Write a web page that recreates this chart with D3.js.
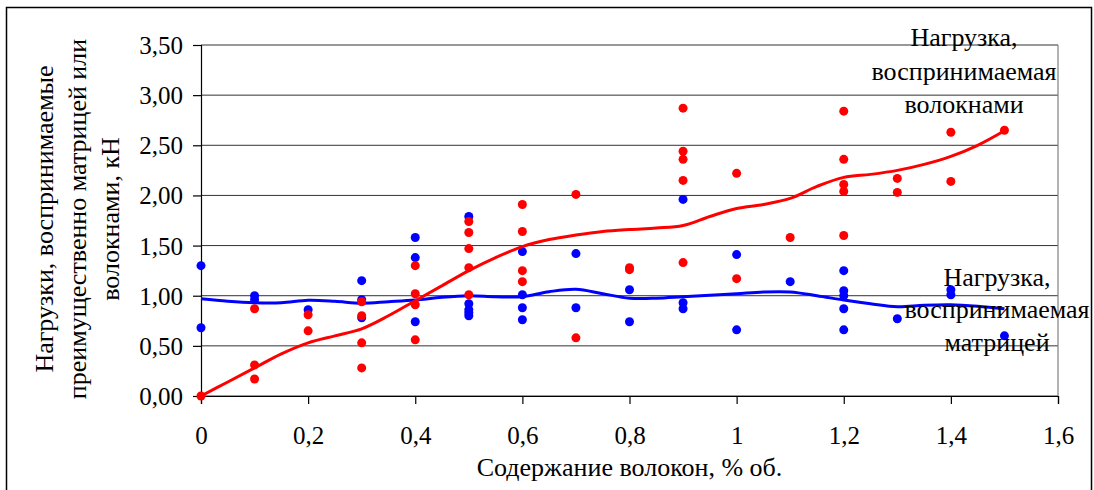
<!DOCTYPE html>
<html>
<head>
<meta charset="utf-8">
<script src="https://cdn.jsdelivr.net/npm/d3@7"></script>
<style>
  html, body { margin: 0; padding: 0; background: #fff; }
  svg text { font-family: "Liberation Serif", "Times New Roman", serif; fill: #000; }
</style>
</head>
<body>
<svg id="chart" width="1094" height="490"></svg>
<script>
// Fibre content, % by volume, for each test group
const fiberContent = [0, 0.1, 0.2, 0.3, 0.4, 0.5, 0.6, 0.7, 0.8, 0.9, 1.0, 1.1, 1.2, 1.3, 1.4, 1.5];

// Load carried by the fibres, kN (measured points per group)
const fiberLoads = [
  [0.00],
  [0.87, 0.31, 0.17],
  [0.81, 0.65],
  [0.94, 0.80, 0.53, 0.28],
  [1.30, 1.02, 0.91, 0.56],
  [1.74, 1.63, 1.47, 1.28, 1.01],
  [1.91, 1.64, 1.25, 1.14],
  [2.01, 0.58],
  [1.28, 1.26],
  [2.87, 2.44, 2.36, 2.15, 1.33],
  [2.22, 1.17],
  [1.58],
  [2.84, 2.36, 2.11, 2.04, 1.60],
  [2.17, 2.03],
  [2.63, 2.14],
  [2.65]
];

// Load carried by the matrix, kN (measured points per group)
const matrixLoads = [
  [1.30, 0.68],
  [1.00, 0.96],
  [0.86],
  [1.15, 0.96, 0.78],
  [1.58, 1.38, 0.74],
  [1.79, 0.92, 0.86, 0.83, 0.80],
  [1.44, 1.01, 0.88, 0.76],
  [1.42, 0.88],
  [1.06, 0.74],
  [1.96, 0.93, 0.87],
  [1.41, 0.66],
  [1.14],
  [1.25, 1.05, 1.00, 0.87, 0.66],
  [0.77],
  [1.06, 1.01],
  [0.60]
];

// Trend curves sampled every 0.05 %
const trendX = [0, 0.05, 0.1, 0.15, 0.2, 0.25, 0.3, 0.35, 0.4, 0.45, 0.5, 0.55, 0.6, 0.65, 0.7, 0.75,
                0.8, 0.85, 0.9, 0.95, 1.0, 1.05, 1.1, 1.15, 1.2, 1.25, 1.3, 1.35, 1.4, 1.45, 1.5];
const fiberTrend = [0.00, 0.14, 0.28, 0.42, 0.53, 0.60, 0.67, 0.80, 0.95, 1.10, 1.25, 1.38, 1.49, 1.56, 1.605, 1.64,
                    1.66, 1.675, 1.70, 1.79, 1.87, 1.91, 1.97, 2.09, 2.18, 2.21, 2.25, 2.31, 2.39, 2.50, 2.645];
const matrixTrend = [0.97, 0.945, 0.93, 0.93, 0.955, 0.945, 0.925, 0.94, 0.957, 0.985, 1.00, 0.99, 0.99, 1.04, 1.065, 1.02,
                     0.975, 0.975, 0.99, 1.005, 1.02, 1.037, 1.037, 1.00, 0.957, 0.92, 0.89, 0.905, 0.91, 0.895, 0.87];

const xTicks = [0, 0.2, 0.4, 0.6, 0.8, 1.0, 1.2, 1.4, 1.6];
const yTicks = [0, 0.5, 1.0, 1.5, 2.0, 2.5, 3.0, 3.5];

const yTitleLines = ["Нагрузки, воспринимаемые", "преимущественно матрицей или", "волокнами, кН"];
const xTitle = "Содержание волокон, % об.";
const fiberLabel = ["Нагрузка,", "воспринимаемая", "волокнами"];
const matrixLabel = ["Нагрузка,", "воспринимаемая", "матрицей"];

const FIBER_COLOR = "#ff0000";
const MATRIX_COLOR = "#0000ff";
const FONT = 26;
const TICK_FONT = 25;

const svg = d3.select("#chart");
const plot = { left: 201, right: 1058, top: 45, bottom: 396 };

const x = d3.scaleLinear().domain([0, 1.6]).range([plot.left, plot.right]);
const y = d3.scaleLinear().domain([0, 3.5]).range([plot.bottom, plot.top]);

const comma = s => s.replace(".", ",");
const fmtY = d => comma(d3.format(".2f")(d));
const fmtX = d => comma(String(+d.toFixed(1)));

// outer frame
svg.append("rect")
  .attr("x", 6.5).attr("y", 7.5)
  .attr("width", 1085).attr("height", 500)
  .attr("fill", "none").attr("stroke", "#000").attr("stroke-width", 1.5);

// horizontal gridlines
svg.append("g")
  .selectAll("line")
  .data(yTicks)
  .join("line")
  .attr("x1", plot.left).attr("x2", plot.right)
  .attr("y1", d => y(d)).attr("y2", d => y(d))
  .attr("stroke", "#333").attr("stroke-width", 1);

// right border of plot area
svg.append("line")
  .attr("x1", plot.right).attr("x2", plot.right)
  .attr("y1", plot.top).attr("y2", plot.bottom)
  .attr("stroke", "#808080").attr("stroke-width", 1.2);

// axes
const yAxis = svg.append("g")
  .attr("transform", `translate(${plot.left},0)`)
  .call(d3.axisLeft(y).tickValues(yTicks).tickFormat(fmtY).tickSize(8).tickPadding(10));
const xAxis = svg.append("g")
  .attr("transform", `translate(0,${plot.bottom})`)
  .call(d3.axisBottom(x).tickValues(xTicks).tickFormat(fmtX).tickSize(8).tickPadding(22));

[yAxis, xAxis].forEach(g => {
  g.attr("font-family", null).attr("font-size", null);
  g.select(".domain").attr("stroke", "#000").attr("stroke-width", 1.2);
  g.selectAll(".tick line").attr("stroke", "#000").attr("stroke-width", 1.2);
  g.selectAll(".tick text").attr("font-size", TICK_FONT).attr("fill", "#000");
});
yAxis.selectAll(".tick text").attr("dy", "0.34em");

// axis titles
svg.append("text")
  .attr("x", (plot.left + plot.right) / 2).attr("y", 476)
  .attr("text-anchor", "middle").attr("font-size", FONT)
  .text(xTitle);

const yTitle = svg.append("text")
  .attr("transform", "translate(0,219) rotate(-90)")
  .attr("text-anchor", "middle").attr("font-size", FONT);
yTitleLines.forEach((t, i) => {
  yTitle.append("tspan").attr("x", 0).attr("y", 53 + i * 33).text(t);
});

// flatten point data
const fiberPts = fiberContent.flatMap((c, i) => fiberLoads[i].map(v => [c, v]));
const matrixPts = fiberContent.flatMap((c, i) => matrixLoads[i].map(v => [c, v]));

const line = d3.line().x(d => x(d[0])).y(d => y(d[1])).curve(d3.curveCatmullRom.alpha(0.5));

// matrix series
svg.append("path")
  .datum(trendX.map((c, i) => [c, matrixTrend[i]]))
  .attr("d", line).attr("fill", "none")
  .attr("stroke", MATRIX_COLOR).attr("stroke-width", 3);
svg.append("g").selectAll("circle").data(matrixPts).join("circle")
  .attr("cx", d => x(d[0])).attr("cy", d => y(d[1])).attr("r", 4.5)
  .attr("fill", MATRIX_COLOR);

// fibre series
svg.append("g").selectAll("circle").data(fiberPts).join("circle")
  .attr("cx", d => x(d[0])).attr("cy", d => y(d[1])).attr("r", 4.5)
  .attr("fill", FIBER_COLOR);
svg.append("path")
  .datum(trendX.map((c, i) => [c, fiberTrend[i]]))
  .attr("d", line).attr("fill", "none")
  .attr("stroke", FIBER_COLOR).attr("stroke-width", 3);

// series labels
function label(lines, cx, baseY, step) {
  const t = svg.append("text").attr("text-anchor", "middle").attr("font-size", FONT);
  lines.forEach((s, i) => t.append("tspan").attr("x", cx).attr("y", baseY + i * step).text(s));
}
label(fiberLabel, 964, 46, 33.5);
label(matrixLabel, 997, 286, 32.3);
</script>
</body>
</html>
